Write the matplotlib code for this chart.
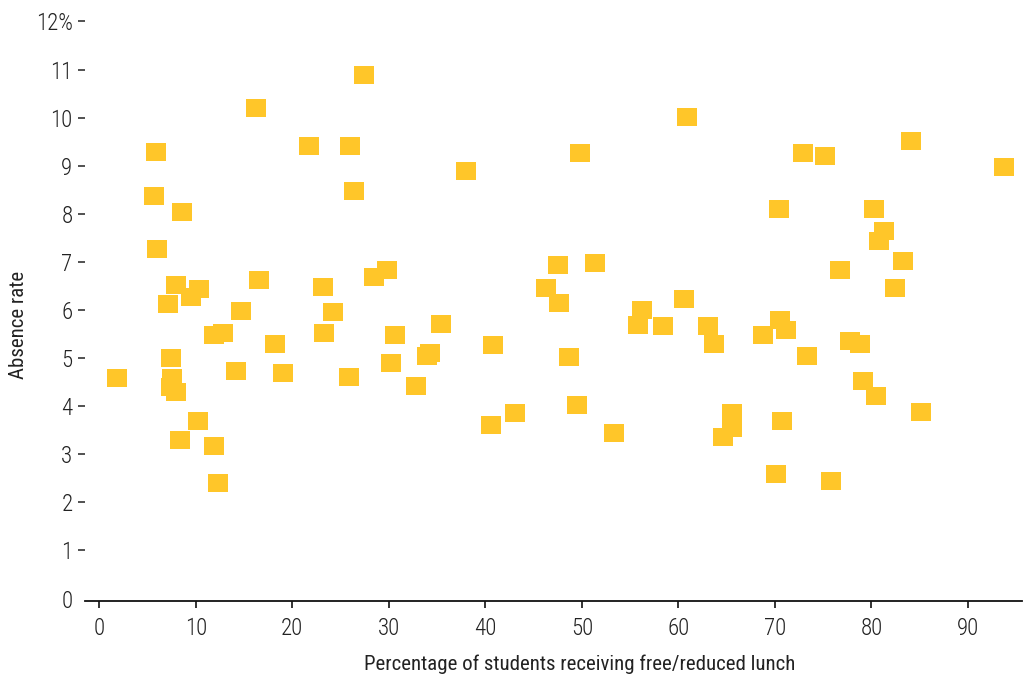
import matplotlib
matplotlib.use('Agg')
import matplotlib.pyplot as plt

plt.rcParams['font.family'] = ['Roboto Condensed', 'DejaVu Sans']
plt.rcParams['font.weight'] = 300

# percentage of students receiving free/reduced lunch
lunch_pct = [1.8, 5.7, 5.9, 6.0, 7.1, 7.4, 7.5, 7.4, 7.9, 8.0, 8.4, 8.6, 9.5, 10.2,
             10.3, 11.9, 11.9, 12.3, 12.8, 14.2, 14.7, 16.2, 16.5, 18.2, 19.0,
             21.7, 23.2, 23.3, 24.2, 25.9, 26.0, 26.4, 27.4, 28.5, 29.8, 30.2,
             30.6, 32.8, 34.0, 34.3, 35.4, 38.0, 40.6, 40.8, 43.1, 46.3, 47.5,
             47.6, 48.7, 49.5, 49.8, 51.4, 53.3, 55.8, 56.2, 58.4, 60.6, 60.9,
             63.1, 63.7, 64.6, 65.6, 65.6, 68.8, 70.1, 70.4, 70.5, 70.7, 71.2,
             72.9, 73.3, 75.2, 75.8, 76.7, 77.8, 78.8, 79.1, 80.3, 80.5, 80.8,
             81.3, 82.4, 83.3, 84.1, 85.1, 93.7]
# absence rate (%)
absence = [4.58, 8.36, 9.28, 7.26, 6.12, 5.01, 4.58, 4.39, 6.53, 4.29, 3.29, 8.03,
           6.26, 3.69, 6.43, 5.47, 3.17, 2.40, 5.52, 4.73, 5.97, 10.19, 6.62,
           5.29, 4.68, 9.40, 6.47, 5.52, 5.95, 4.60, 9.40, 8.47, 10.88, 6.68,
           6.83, 4.89, 5.47, 4.41, 5.04, 5.10, 5.70, 8.90, 3.60, 5.27, 3.85,
           6.45, 6.93, 6.14, 5.02, 4.02, 9.26, 6.97, 3.44, 5.68, 6.01, 5.66,
           6.22, 10.01, 5.66, 5.29, 3.35, 3.85, 3.54, 5.47, 2.60, 8.11, 5.79,
           3.69, 5.58, 9.26, 5.04, 9.20, 2.44, 6.83, 5.35, 5.29, 4.52, 8.11,
           4.21, 7.43, 7.64, 6.45, 7.01, 9.51, 3.87, 8.97]

x_ticks = [0, 10, 20, 30, 40, 50, 60, 70, 80, 90]
y_ticks = list(range(13))
y_labels = [str(v) for v in y_ticks[:-1]] + ['12%']

fig = plt.figure(figsize=(10.24, 6.79), dpi=100)
ax = fig.add_axes([0.083, 0.1156, 0.915, 0.8635])

box = [(-1, -0.9), (1, -0.9), (1, 0.9), (-1, 0.9), (-1, -0.9)]
ax.plot(lunch_pct, absence, linestyle='none', marker=box, markersize=13.7,
        markeredgewidth=0, color='#FFC629', clip_on=False)

ax.set_xlim(-1.48, 95.6)
ax.set_ylim(-0.04, 12.15)

for s in ['left', 'right', 'top']:
    ax.spines[s].set_visible(False)
ax.spines['bottom'].set_linewidth(1.3)
ax.spines['bottom'].set_color('#111111')

ax.set_xticks(x_ticks)
ax.set_yticks(y_ticks)
ax.set_yticklabels(y_labels)
ax.tick_params(axis='x', length=5, width=1.2, color='#111111', pad=7,
               labelsize=16.5, labelcolor='#222222')
ax.tick_params(axis='y', length=5, width=1.2, color='#333333', pad=4,
               labelsize=16.5, labelcolor='#222222')
ax.yaxis.get_major_ticks()[0].tick1line.set_visible(False)

ax.set_xlabel('Percentage of students receiving free/reduced lunch',
              fontsize=15, color='#222222')
ax.set_ylabel('Absence rate', fontsize=15, color='#222222')
ax.xaxis.set_label_coords(0.528, -0.092)
ax.yaxis.set_label_coords(-0.061, 0.47)

fig.savefig('out.png', dpi=100)
